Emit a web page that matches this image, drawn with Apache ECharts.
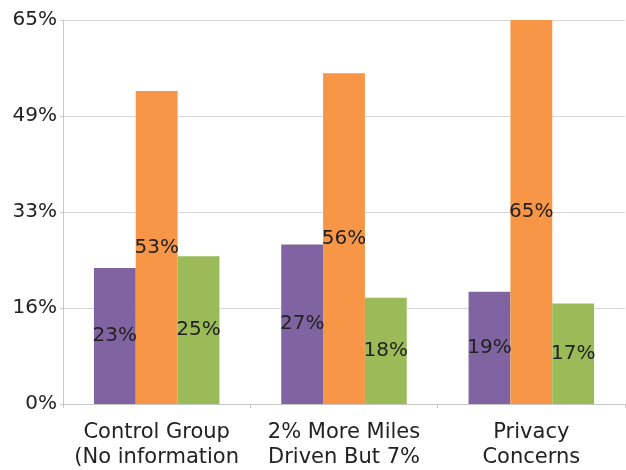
<!DOCTYPE html>
<html>
<head>
<meta charset="utf-8">
<script src="https://cdn.jsdelivr.net/npm/echarts@6/dist/echarts.min.js"></script>
<style>html,body{margin:0;padding:0;background:#fff}#c{width:626px;height:470px}</style>
</head>
<body>
<div id="c"></div>
<script>
var categories = ['Control Group\n(No information', '2% More Miles\nDriven But 7%', 'Privacy\nConcerns'];
var purpleValues = [23, 27, 19];
var orangeValues = [53, 56, 65];
var greenValues = [25, 18, 17];
var yTickLabels = ['0%', '16%', '33%', '49%', '65%'];

var FONT = 'DejaVu Sans';
var chart = echarts.init(document.getElementById('c'));
function barSeries(name, data, color) {
  return {
    name: name, type: 'bar', data: data, barGap: '0%', barCategoryGap: '33%',
    itemStyle: { color: color },
    label: { show: true, position: 'inside', formatter: '{c}%', color: '#222', fontFamily: FONT, fontSize: 20 }
  };
}
chart.setOption({
  animation: false,
  grid: { left: 63, right: 1, top: 20, bottom: 66 },
  xAxis: {
    type: 'category', data: categories,
    axisLine: { lineStyle: { color: '#c8c8c8' } },
    axisTick: { show: true, length: 4, lineStyle: { color: '#c8c8c8' } },
    axisLabel: { color: '#222', fontFamily: FONT, fontSize: 21, margin: 16, lineHeight: 25, interval: 0 }
  },
  yAxis: {
    type: 'value', min: 0, max: 65, interval: 16.25,
    axisLine: { show: true, lineStyle: { color: '#c8c8c8' } },
    axisTick: { show: true, length: 3, lineStyle: { color: '#c8c8c8' } },
    splitLine: { lineStyle: { color: '#d6d6d6' } },
    axisLabel: {
      color: '#222', fontFamily: FONT, fontSize: 20, margin: 6,
      formatter: function (v) { return yTickLabels[Math.round(v / 16.25)]; }
    }
  },
  series: [
    barSeries('A', purpleValues, '#8064A2'),
    barSeries('B', orangeValues, '#F79646'),
    barSeries('C', greenValues, '#9BBB59')
  ]
});
</script>
</body>
</html>
